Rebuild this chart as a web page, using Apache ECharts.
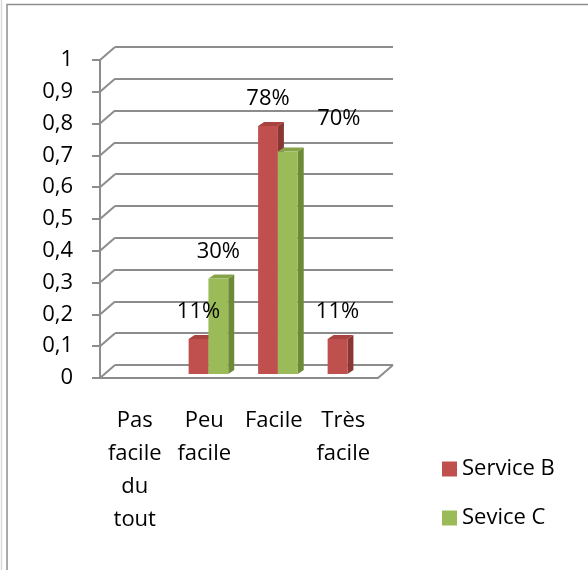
<!DOCTYPE html>
<html>
<head>
<meta charset="utf-8">
<script src="https://cdn.jsdelivr.net/npm/echarts@6/dist/echarts.min.js"></script>
<style>
  html, body { margin: 0; padding: 0; background: #fff; }
  #chart { width: 588px; height: 570px; }
</style>
</head>
<body>
<div id="chart"></div>
<script>
var categories = ['Pas\nfacile\ndu\ntout', 'Peu\nfacile', 'Facile', 'Très\nfacile'];
var seriesNames = ['Service B', 'Sevice C'];
var serviceB = [null, 0.11, 0.78, 0.11];
var seviceC = [null, 0.30, 0.70, null];
var yTicks = [0, 0.1, 0.2, 0.3, 0.4, 0.5, 0.6, 0.7, 0.8, 0.9, 1];

var font = '"Open Sans", sans-serif';
var gridColor = '#8c8c8c';
var depth = [15, -13];      // back wall offset
var barDepth = [6, -4];     // bar thickness
var faces = [
    { front: '#C0504D', top: '#A8433F', side: '#8A3633' },
    { front: '#9BBB59', top: '#86A34A', side: '#6C8A38' }
];
// excel put this one label off to the side
var labelNudge = { '1-2': [51, -6] };

var myChart;
document.addEventListener('DOMContentLoaded', function () {
    initChart();
});

function toPoints(arr) {
    var out = [];
    for (var i = 0; i < arr.length; i++) {
        if (arr[i] !== null) out.push([i, arr[i]]);
    }
    return out;
}

// front face box of a bar, shared by bars and labels
function barBox(sIdx, api) {
    var cat = api.value(0), v = api.value(1);
    var base = api.coord([cat, 0]);
    var top = api.coord([cat, v]);
    var band = api.size([1, 0])[0];
    var w = band * 0.285;
    var x0 = base[0] - band / 2 + band * 0.275 + sIdx * w;
    return { cat: cat, v: v, x0: x0, w: w, yb: base[1] - 4, yt: top[1] - 4 };
}

function renderBar(sIdx) {
    return function (params, api) {
        var b = barBox(sIdx, api);
        var x0 = b.x0, w = b.w, yb = b.yb, yt = b.yt;
        var dx = barDepth[0], dy = barDepth[1];
        var f = faces[sIdx];
        return {
            type: 'group',
            children: [
                { type: 'polygon', shape: { points: [[x0 + w, yb], [x0 + w, yt], [x0 + w + dx, yt + dy], [x0 + w + dx, yb + dy]] }, style: { fill: f.side } },
                { type: 'polygon', shape: { points: [[x0, yt], [x0 + w, yt], [x0 + w + dx, yt + dy], [x0 + dx, yt + dy]] }, style: { fill: f.top } },
                { type: 'rect', shape: { x: x0, y: yt, width: w, height: yb - yt }, style: { fill: f.front } }
            ]
        };
    };
}

function renderLabel(sIdx) {
    return function (params, api) {
        var b = barBox(sIdx, api);
        var nudge = labelNudge[sIdx + '-' + b.cat] || [0, 0];
        return {
            type: 'text',
            style: {
                text: Math.round(b.v * 100) + '%',
                x: b.x0 + b.w / 2 + nudge[0], y: b.yt - 27 + nudge[1],
                align: 'center', verticalAlign: 'middle',
                fontSize: 22, fontFamily: font, fill: '#000'
            }
        };
    };
}

function renderDiagonals(params, api) {
    var v = api.value(1);
    var p = api.coord([0, v]);
    var band = api.size([1, 0])[0];
    var left = p[0] - band / 2;
    var kids = [{ type: 'line', shape: { x1: left, y1: p[1], x2: left + depth[0], y2: p[1] + depth[1] }, style: { stroke: gridColor, lineWidth: 2 } }];
    if (v === 0) {
        var right = left + band * categories.length;
        kids.push({ type: 'line', shape: { x1: right, y1: p[1], x2: right + depth[0], y2: p[1] + depth[1] }, style: { stroke: gridColor, lineWidth: 2 } });
    }
    return { type: 'group', children: kids };
}

function initChart() {
    myChart = echarts.init(document.getElementById('chart'));
    var option = {
        animation: false,
        textStyle: { fontFamily: font },
        graphic: [
            { type: 'line', shape: { x1: 1.5, y1: 0, x2: 1.5, y2: 570 }, style: { stroke: '#d9d9d9', lineWidth: 1.5 } },
            { type: 'rect', shape: { x: 7, y: 4.5, width: 620, height: 620 }, style: { fill: null, stroke: '#8f8f8f', lineWidth: 1.5 } }
        ],
        legend: {
            orient: 'vertical',
            left: 437,
            top: 453,
            itemWidth: 15,
            itemHeight: 15,
            itemGap: 27,
            icon: 'rect',
            data: seriesNames,
            textStyle: { fontSize: 22, fontFamily: font, color: '#000' }
        },
        grid: [
            { left: 100, top: 60, width: 278, height: 318 },
            { left: 100 + depth[0], top: 60 + depth[1], width: 278, height: 318 }
        ],
        xAxis: [
            {
                type: 'category', gridIndex: 0, data: categories,
                axisLine: { lineStyle: { color: gridColor, width: 2 } },
                axisTick: { length: 7, lineStyle: { color: gridColor, width: 2 } },
                axisLabel: { fontSize: 22, fontFamily: font, color: '#000', lineHeight: 33, margin: 26, interval: 0 }
            },
            { type: 'category', gridIndex: 1, data: categories, show: false }
        ],
        yAxis: [
            {
                type: 'value', gridIndex: 0, min: 0, max: 1, interval: 0.1,
                axisLine: { show: true, lineStyle: { color: gridColor, width: 2 } },
                axisTick: { show: true, length: 8, lineStyle: { color: gridColor, width: 2 } },
                splitLine: { show: false },
                axisLabel: {
                    fontSize: 22, fontFamily: font, color: '#000', margin: 27,
                    formatter: function (v) { return String(Math.round(v * 10) / 10).replace('.', ','); }
                }
            },
            {
                type: 'value', gridIndex: 1, min: 0, max: 1, interval: 0.1,
                axisLine: { show: false }, axisTick: { show: false }, axisLabel: { show: false },
                splitLine: { show: true, lineStyle: { color: gridColor, width: 2 } }
            }
        ],
        series: [
            {
                type: 'custom', name: 'walls', xAxisIndex: 0, yAxisIndex: 0,
                data: yTicks.map(function (t) { return [0, t]; }),
                renderItem: renderDiagonals, silent: true, z: 1
            },
            {
                type: 'custom', name: seriesNames[0], xAxisIndex: 0, yAxisIndex: 0,
                data: toPoints(serviceB), renderItem: renderBar(0),
                itemStyle: { color: faces[0].front }, z: 3
            },
            {
                type: 'custom', name: seriesNames[1], xAxisIndex: 0, yAxisIndex: 0,
                data: toPoints(seviceC), renderItem: renderBar(1),
                itemStyle: { color: faces[1].front }, z: 4
            },
            {
                type: 'custom', name: 'labelsB', xAxisIndex: 0, yAxisIndex: 0,
                data: toPoints(serviceB), renderItem: renderLabel(0), silent: true, z: 6
            },
            {
                type: 'custom', name: 'labelsC', xAxisIndex: 0, yAxisIndex: 0,
                data: toPoints(seviceC), renderItem: renderLabel(1), silent: true, z: 6
            }
        ]
    };
    myChart.setOption(option);
}
</script>
</body>
</html>
